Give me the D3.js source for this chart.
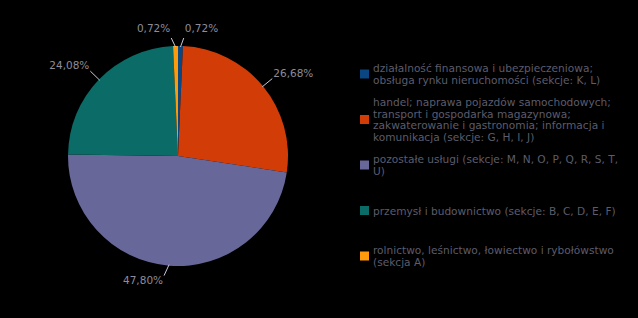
<!DOCTYPE html>
<html>
<head>
<meta charset="utf-8">
<script src="https://cdn.jsdelivr.net/npm/d3@7"></script>
<style>
  body { margin: 0; background: #000; }
  svg { display: block; font-family: "DejaVu Sans", sans-serif; }
</style>
</head>
<body>
<svg></svg>
<script>
// dane wykresu
let categories = [
    'działalność finansowa i ubezpieczeniowa; obsługa rynku nieruchomości (sekcje: K, L)',
    'handel; naprawa pojazdów samochodowych; transport i gospodarka magazynowa; zakwaterowanie i gastronomia; informacja i komunikacja (sekcje: G, H, I, J)',
    'pozostałe usługi (sekcje: M, N, O, P, Q, R, S, T, U)',
    'przemysł i budownictwo (sekcje: B, C, D, E, F)',
    'rolnictwo, leśnictwo, łowiectwo i rybołówstwo (sekcja A)'
]
let legendLines = [
    ['działalność finansowa i ubezpieczeniowa;', 'obsługa rynku nieruchomości (sekcje: K, L)'],
    ['handel; naprawa pojazdów samochodowych;', 'transport i gospodarka magazynowa;', 'zakwaterowanie i gastronomia; informacja i', 'komunikacja (sekcje: G, H, I, J)'],
    ['pozostałe usługi (sekcje: M, N, O, P, Q, R, S, T,', 'U)'],
    ['przemysł i budownictwo (sekcje: B, C, D, E, F)'],
    ['rolnictwo, leśnictwo, łowiectwo i rybołówstwo', '(sekcja A)']
]
let values = [0.72, 26.68, 47.80, 24.08, 0.72]
let colors = ['#0a4682', '#d23c06', '#67679a', '#0b6b66', '#fd9b0c']

// parametry
let width = 638
let height = 318
let cx = 178, cy = 156, r = 110

let svg = d3.select('svg')
    .attr('width', width)
    .attr('height', height)

let pie = d3.pie().sort(null).value(d => d)
let arcs = pie(values)
let arc = d3.arc().innerRadius(0).outerRadius(r)

let g = svg.append('g').attr('transform', 'translate(' + cx + ',' + cy + ')')

// wycinki
g.selectAll('path').data(arcs).enter()
    .append('path')
    .attr('d', arc)
    .attr('fill', (d, i) => colors[i])

// etykiety z liniami
let fmt = v => d3.format('.2f')(v).replace('.', ',') + '%'
arcs.forEach((d, i) => {
    let a = (d.startAngle + d.endAngle) / 2
    let small = (d.endAngle - d.startAngle) < 0.1
    let sx = Math.sin(a), sy = -Math.cos(a)
    let x1 = sx * (r - 1), y1 = sy * (r - 1)
    let x2 = sx * (r + 12), y2 = sy * (r + 12)
    let right = sx > 0
    let ty = y2 + (sy < 0 ? -2 : 8)
    if (small) {
        // rozsunięcie małych wycinków
        x2 += right ? 3 : -4
        y2 = sy * (r + 8)
        ty = y2 - 6
    }
    if (i === 2) { x2 -= 4; y2 -= 2; ty = y2 + 8 }
    g.append('line')
        .attr('x1', x1).attr('y1', y1)
        .attr('x2', x2).attr('y2', y2)
        .attr('stroke', '#c8c8d8')
        .attr('stroke-width', 1)
    g.append('text')
        .text(fmt(values[i]))
        .attr('x', x2 + (right ? 1 : -1))
        .attr('y', ty)
        .attr('text-anchor', right ? 'start' : 'end')
        .attr('font-size', 10.5)
        .attr('fill', '#8c8c9c')
})

// legenda
let legendY = d3.scaleLinear().domain([0, categories.length - 1]).range([74, 256])
let lineH = 11.5
let legend = svg.append('g')
categories.forEach((c, i) => {
    let y = legendY(i)
    legend.append('rect')
        .attr('x', 360).attr('y', y - 4.5)
        .attr('width', 9).attr('height', 9)
        .attr('fill', colors[i])
    let lines = legendLines[i]
    let t = legend.append('text')
        .attr('font-size', 10.6)
        .attr('fill', '#5c5c6c')
    lines.forEach((l, k) => {
        t.append('tspan')
            .attr('x', 373)
            .attr('y', y + (k - (lines.length - 1) / 2) * lineH + 4)
            .text(l)
    })
})
</script>
</body>
</html>
